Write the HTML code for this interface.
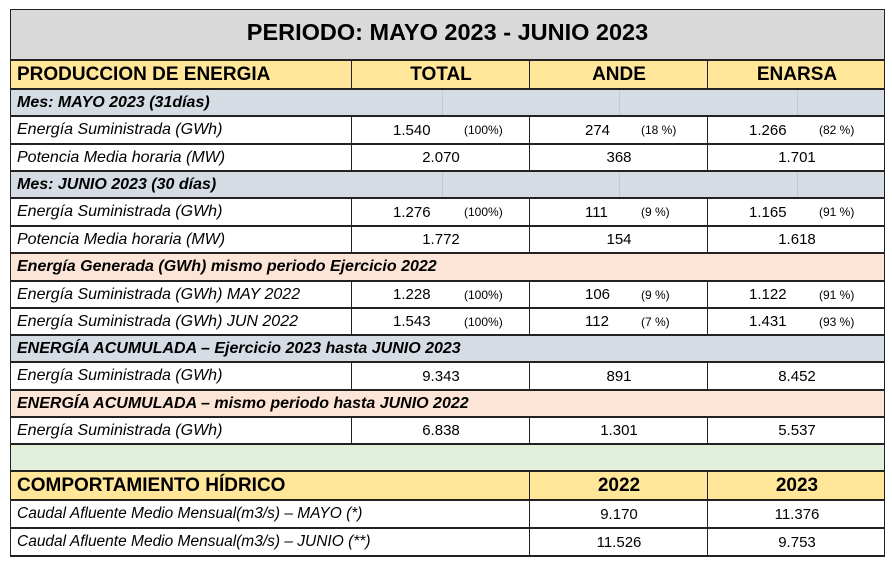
<!DOCTYPE html>
<html><head><meta charset="utf-8"><style>
body{margin:0;width:892px;height:566px;background:#fff;position:relative;font-family:"Liberation Sans",Arial,sans-serif;overflow:hidden}
.r{position:absolute;left:10px;width:875px;box-sizing:border-box;border:1px solid #222;border-top:none}
.c{position:absolute;top:0;bottom:0;display:flex;align-items:center;white-space:nowrap}
.l{left:6px;font-style:italic;font-size:16px;color:#000}
.v{font-size:15px;justify-content:center}
.p{font-size:12px}
.vl{position:absolute;top:0;bottom:0;width:0;border-left:1.5px solid #222}
.fl{position:absolute;top:0;bottom:0;width:0;border-left:1px solid #c4c9d0}
.g{background:#d6dce4}.pe{background:#fce4d6}.y{background:#ffe699}
.b{font-weight:bold}
</style></head><body>
<div class="r" style="top:9px;height:52px;border-top:1.5px solid #222;background:#d9d9d9;border-bottom:2px solid #222">
 <div class="c b" style="left:0;right:0;justify-content:center;font-size:23.5px;padding-bottom:4px">PERIODO: MAYO 2023 - JUNIO 2023</div></div>

<div class="r y" style="top:61px;height:29px;border-bottom:2px solid #222">
 <div class="c b" style="left:6px;font-size:19px">PRODUCCION DE ENERGIA</div>
 <div class="vl" style="left:340px"></div><div class="vl" style="left:518px"></div><div class="vl" style="left:696px"></div>
 <div class="c b" style="left:341px;width:178px;justify-content:center;font-size:19px">TOTAL</div>
 <div class="c b" style="left:519px;width:178px;justify-content:center;font-size:19px">ANDE</div>
 <div class="c b" style="left:697px;width:178px;justify-content:center;font-size:19px">ENARSA</div>
</div>

<div class="r g" style="top:90px;height:27px;border-bottom:2px solid #222"><div class="fl" style="left:431px"></div><div class="fl" style="left:608px"></div><div class="fl" style="left:786px"></div><div class="c l b">Mes: MAYO 2023 (31días)</div></div>
<div class="r" style="top:117px;height:28px;border-bottom:2px solid #222"><div class="c l">Energía Suministrada (GWh)</div><div class="vl" style="left:340px"></div><div class="vl" style="left:518px"></div><div class="vl" style="left:696px"></div>
 <div class="c v" style="left:382px">1.540</div><div class="c p" style="left:453px">(100%)</div>
 <div class="c v" style="left:574px">274</div><div class="c p" style="left:630px">(18 %)</div>
 <div class="c v" style="left:738px">1.266</div><div class="c p" style="left:808px">(82 %)</div></div>
<div class="r" style="top:145px;height:27px;border-bottom:2px solid #222"><div class="c l">Potencia Media horaria (MW)</div><div class="vl" style="left:340px"></div><div class="vl" style="left:518px"></div><div class="vl" style="left:696px"></div>
 <div class="c v" style="left:341px;width:178px">2.070</div><div class="c v" style="left:519px;width:178px">368</div><div class="c v" style="left:697px;width:178px">1.701</div></div>

<div class="r g" style="top:172px;height:27px;border-bottom:2px solid #222"><div class="fl" style="left:431px"></div><div class="fl" style="left:608px"></div><div class="fl" style="left:786px"></div><div class="c l b">Mes: JUNIO 2023 (30 días)</div></div>
<div class="r" style="top:199px;height:28px;border-bottom:2px solid #222"><div class="c l">Energía Suministrada (GWh)</div><div class="vl" style="left:340px"></div><div class="vl" style="left:518px"></div><div class="vl" style="left:696px"></div>
 <div class="c v" style="left:382px">1.276</div><div class="c p" style="left:453px">(100%)</div>
 <div class="c v" style="left:574px">111</div><div class="c p" style="left:630px">(9 %)</div>
 <div class="c v" style="left:738px">1.165</div><div class="c p" style="left:808px">(91 %)</div></div>
<div class="r" style="top:227px;height:27px;border-bottom:2px solid #222"><div class="c l">Potencia Media horaria (MW)</div><div class="vl" style="left:340px"></div><div class="vl" style="left:518px"></div><div class="vl" style="left:696px"></div>
 <div class="c v" style="left:341px;width:178px">1.772</div><div class="c v" style="left:519px;width:178px">154</div><div class="c v" style="left:697px;width:178px">1.618</div></div>

<div class="r pe" style="top:254px;height:28px;border-bottom:2px solid #222"><div class="c l b">Energía Generada (GWh) mismo periodo Ejercicio 2022</div></div>
<div class="r" style="top:282px;height:27px;border-bottom:2px solid #222"><div class="c l">Energía Suministrada (GWh) MAY 2022</div><div class="vl" style="left:340px"></div><div class="vl" style="left:518px"></div><div class="vl" style="left:696px"></div>
 <div class="c v" style="left:382px">1.228</div><div class="c p" style="left:453px">(100%)</div>
 <div class="c v" style="left:574px">106</div><div class="c p" style="left:630px">(9 %)</div>
 <div class="c v" style="left:738px">1.122</div><div class="c p" style="left:808px">(91 %)</div></div>
<div class="r" style="top:309px;height:27px;border-bottom:2px solid #222"><div class="c l">Energía Suministrada (GWh) JUN 2022</div><div class="vl" style="left:340px"></div><div class="vl" style="left:518px"></div><div class="vl" style="left:696px"></div>
 <div class="c v" style="left:382px">1.543</div><div class="c p" style="left:453px">(100%)</div>
 <div class="c v" style="left:574px">112</div><div class="c p" style="left:630px">(7 %)</div>
 <div class="c v" style="left:738px">1.431</div><div class="c p" style="left:808px">(93 %)</div></div>

<div class="r g" style="top:336px;height:27px;border-bottom:2px solid #222"><div class="c l b">ENERGÍA ACUMULADA – Ejercicio 2023 hasta JUNIO 2023</div></div>
<div class="r" style="top:363px;height:28px;border-bottom:2px solid #222"><div class="c l">Energía Suministrada (GWh)</div><div class="vl" style="left:340px"></div><div class="vl" style="left:518px"></div><div class="vl" style="left:696px"></div>
 <div class="c v" style="left:341px;width:178px">9.343</div><div class="c v" style="left:519px;width:178px">891</div><div class="c v" style="left:697px;width:178px">8.452</div></div>

<div class="r pe" style="top:391px;height:27px;border-bottom:2px solid #222"><div class="c l b">ENERGÍA ACUMULADA – mismo periodo hasta JUNIO 2022</div></div>
<div class="r" style="top:418px;height:27px;border-bottom:2px solid #222"><div class="c l">Energía Suministrada (GWh)</div><div class="vl" style="left:340px"></div><div class="vl" style="left:518px"></div><div class="vl" style="left:696px"></div>
 <div class="c v" style="left:341px;width:178px">6.838</div><div class="c v" style="left:519px;width:178px">1.301</div><div class="c v" style="left:697px;width:178px">5.537</div></div>

<div class="r" style="top:445px;height:27px;background:#e2efda;border-bottom:2px solid #222"></div>
<div class="r y" style="top:472px;height:29px;border-bottom:2px solid #222">
 <div class="c b" style="left:6px;font-size:19px">COMPORTAMIENTO HÍDRICO</div>
 <div class="vl" style="left:518px"></div><div class="vl" style="left:696px"></div>
 <div class="c b" style="left:519px;width:178px;justify-content:center;font-size:19px">2022</div>
 <div class="c b" style="left:697px;width:178px;justify-content:center;font-size:19px">2023</div></div>
<div class="r" style="top:501px;height:28px;border-bottom:2px solid #222"><div class="c l" style="font-size:15.5px">Caudal Afluente Medio Mensual(m3/s) – MAYO (*)</div><div class="vl" style="left:518px"></div><div class="vl" style="left:696px"></div>
 <div class="c v" style="left:519px;width:178px">9.170</div><div class="c v" style="left:697px;width:178px">11.376</div></div>
<div class="r" style="top:529px;height:28px;border-bottom:2px solid #222"><div class="c l" style="font-size:15.5px">Caudal Afluente Medio Mensual(m3/s) – JUNIO (**)</div><div class="vl" style="left:518px"></div><div class="vl" style="left:696px"></div>
 <div class="c v" style="left:519px;width:178px">11.526</div><div class="c v" style="left:697px;width:178px">9.753</div></div>
</body></html>
